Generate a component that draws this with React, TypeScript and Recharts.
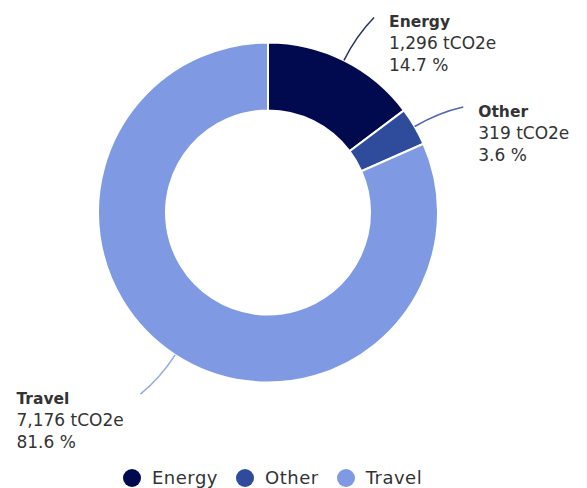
import { PieChart, Pie, Cell, Legend } from 'recharts';

const categories = ['Energy', 'Other', 'Travel'];
const emissions = [1296, 319, 7176];
const colors = ['#020a4f', '#2f4b9c', '#7f9ae3'];

const data = categories.map((name, i) => ({ name, value: emissions[i] }));

const RAD = Math.PI / 180;
const FONT = '"DejaVu Sans", sans-serif';

function renderLabel(props: any) {
  const { cx, cy, midAngle, outerRadius, name, value, percent, index } = props;
  const pt = (r: number, a: number) => [cx + r * Math.cos(-a * RAD), cy + r * Math.sin(-a * RAD)];
  const [x0, y0] = pt(outerRadius, midAngle);
  const [xc, yc] = pt(outerRadius + 28, midAngle);
  const [x1, y1] = pt(outerRadius + 52, midAngle - 2);
  const right = x1 >= cx;
  const tx = right ? x1 + 15 : x1 - 124;
  const ty = y1 + 10;
  return (
    <g>
      <path
        d={`M${x0},${y0} Q${xc},${yc} ${x1},${y1}`}
        stroke={colors[index]}
        strokeOpacity={0.85}
        strokeWidth={1.5}
        fill="none"
      />
      <text x={tx} y={ty} fill="#333" fontFamily={FONT} fontSize={17}>
        <tspan x={tx} fontWeight="bold" fontSize={15.5}>{name}</tspan>
        <tspan x={tx} dy={22}>{value.toLocaleString('en-US')} tCO2e</tspan>
        <tspan x={tx} dy={22}>{(percent * 100).toFixed(1)} %</tspan>
      </text>
    </g>
  );
}

function LegendContent() {
  return (
    <div style={{ display: 'flex', alignItems: 'center', fontFamily: FONT, fontSize: 18, color: '#333', letterSpacing: 0.5 }}>
      {categories.map((c, i) => (
        <div key={c} style={{ display: 'flex', alignItems: 'center', marginRight: 18 }}>
          <span style={{ width: 18, height: 18, borderRadius: 9, background: colors[i], marginRight: 11 }} />
          <span>{c}</span>
        </div>
      ))}
    </div>
  );
}

export default function App() {
  return (
    <div style={{ position: 'absolute', left: 0, top: 0, background: '#fff' }}>
      <PieChart width={587} height={488} margin={{ top: 0, right: 0, bottom: 0, left: 0 }}>
        <Pie
          data={data}
          dataKey="value"
          nameKey="name"
          cx={268}
          cy={212.5}
          innerRadius={102}
          outerRadius={170}
          startAngle={90}
          endAngle={-270}
          stroke="#fff"
          strokeWidth={2}
          label={renderLabel}
          labelLine={false}
          isAnimationActive={false}
        >
          {data.map((d, i) => (
            <Cell key={d.name} fill={colors[i]} />
          ))}
        </Pie>
        <Legend content={<LegendContent />} wrapperStyle={{ left: 123, top: 467, width: 400 }} />
      </PieChart>
    </div>
  );
}
